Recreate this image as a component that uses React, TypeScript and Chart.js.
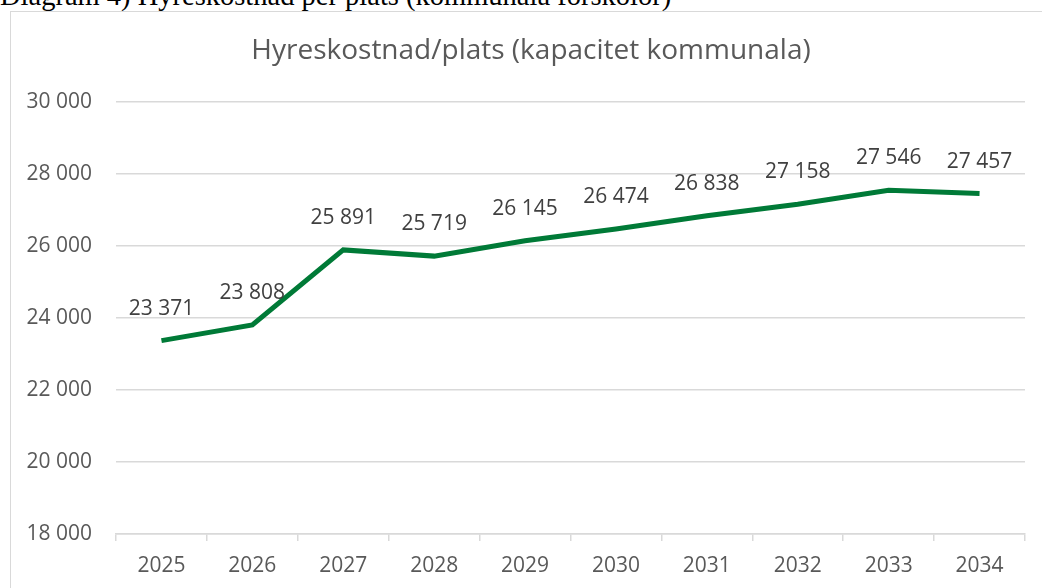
import React, { useEffect, useRef } from "react";
import { Chart, registerables } from "chart.js";

Chart.register(...registerables);

const years = ["2025", "2026", "2027", "2028", "2029", "2030", "2031", "2032", "2033", "2034"];
const costPerPlace = [23371, 23808, 25891, 25719, 26145, 26474, 26838, 27158, 27546, 27457];
const chartTitle = "Hyreskostnad/plats (kapacitet kommunala)";
const pageHeading = "Diagram 4) Hyreskostnad per plats (kommunala förskolor)";
const yMin = 18000;
const yMax = 30000;
const yStep = 2000;

const fmt = (v: number) => String(Math.round(v)).replace(/\B(?=(\d{3})+(?!\d))/g, " ");

const FONT = "'Open Sans', 'Noto Sans', sans-serif";

export default function App() {
  const ref = useRef<HTMLCanvasElement | null>(null);

  useEffect(() => {
    if (!ref.current) return;
    const titlePlugin = {
      id: "customTitle",
      afterDraw(chart: any) {
        const ctx = chart.ctx;
        ctx.save();
        ctx.font = `28px ${FONT}`;
        ctx.fillStyle = "#595959";
        ctx.textAlign = "center";
        ctx.textBaseline = "middle";
        ctx.fillText(chartTitle, 531, 51);
        ctx.restore();
      },
    };
    const labelPlugin = {
      id: "dataLabels",
      afterDatasetsDraw(chart: any) {
        const ctx = chart.ctx;
        const meta = chart.getDatasetMeta(0);
        ctx.save();
        ctx.font = `21px ${FONT}`;
        ctx.fillStyle = "#404040";
        ctx.textAlign = "center";
        ctx.textBaseline = "middle";
        meta.data.forEach((pt: any, i: number) => {
          ctx.fillText(fmt(costPerPlace[i]), pt.x, pt.y - 32);
        });
        ctx.restore();
      },
    };
    const chart = new Chart(ref.current, {
      type: "line",
      data: {
        labels: years,
        datasets: [
          {
            data: costPerPlace,
            borderColor: "#007A37",
            borderWidth: 5,
            pointRadius: 0,
            tension: 0,
            fill: false,
          },
        ],
      },
      options: {
        animation: false,
        responsive: false,
        maintainAspectRatio: false,
        layout: { padding: { top: 102, right: 17, bottom: 0, left: 0 } },
        plugins: {
          legend: { display: false },
          title: { display: false },
          tooltip: { enabled: false },
        },
        scales: {
          x: {
            offset: true,
            grid: {
              offset: true,
              drawOnChartArea: false,
              drawTicks: true,
              tickLength: 7,
              color: "#d9d9d9",
              lineWidth: 1.5,
            },
            border: { display: true, color: "#d9d9d9", width: 1.5 },
            ticks: {
              color: "#595959",
              font: { family: FONT, size: 21 },
              padding: 12,
              maxRotation: 0,
              autoSkip: false,
            },
            afterFit(scale: any) {
              scale.height = 54;
            },
          },
          y: {
            min: yMin,
            max: yMax,
            ticks: {
              stepSize: yStep,
              color: "#595959",
              font: { family: FONT, size: 21 },
              padding: 24,
              callback: (v: any) => fmt(Number(v)),
            },
            grid: { color: "#d9d9d9", lineWidth: 1.5, drawTicks: false },
            border: { display: false },
            afterFit(scale: any) {
              scale.width = 116;
            },
          },
        },
      },
      plugins: [titlePlugin, labelPlugin],
    });
    return () => chart.destroy();
  }, []);

  return (
    <div style={{ position: "absolute", left: 0, top: 0, width: 1042, height: 588, overflow: "hidden", background: "#fff" }}>
      <div
        style={{
          position: "absolute",
          left: 0,
          top: -19,
          fontFamily: "'Liberation Serif', 'DejaVu Serif', serif",
          fontSize: 28.5,
          color: "#000",
          whiteSpace: "nowrap",
          lineHeight: "30px",
        }}
      >
        {pageHeading}
      </div>
      <div
        style={{
          position: "absolute",
          left: 10,
          top: 11,
          width: 1060,
          height: 600,
          border: "1px solid #d9d9d9",
          boxSizing: "border-box",
          background: "#fff",
        }}
      />
      <canvas ref={ref} width={1042} height={588} style={{ position: "absolute", left: 0, top: 0 }} />
    </div>
  );
}
